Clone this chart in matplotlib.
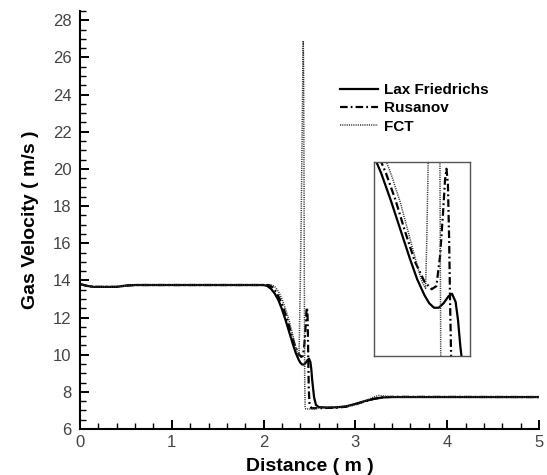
import matplotlib
matplotlib.use("Agg")
import matplotlib.pyplot as plt
from matplotlib.ticker import MultipleLocator

plt.rcParams['font.family'] = ['Liberation Sans', 'DejaVu Sans']
plt.rcParams['lines.scale_dashes'] = False

# ---- data ----
lf_x = [0.0, 0.08, 0.15, 0.40, 0.50, 0.60, 2.00, 2.04, 2.08, 2.12, 2.16, 2.20, 2.24, 2.28,
        2.32, 2.35, 2.38, 2.40, 2.42, 2.44, 2.46, 2.48, 2.495, 2.51, 2.52, 2.53, 2.55,
        2.57, 2.60, 2.70, 2.80, 2.90, 3.00, 3.10, 3.20, 3.30, 3.40, 5.00]
lf_y = [13.80, 13.70, 13.65, 13.65, 13.72, 13.75, 13.75, 13.70, 13.55, 13.30, 12.95, 12.45,
        11.85, 11.20, 10.55, 10.10, 9.75, 9.57, 9.47, 9.47, 9.57, 9.72, 9.78, 9.60, 9.20,
        8.60, 7.70, 7.30, 7.18, 7.15, 7.17, 7.22, 7.35, 7.50, 7.62, 7.70, 7.72, 7.72]

ru_x = [0.0, 0.08, 0.15, 0.40, 0.50, 0.60, 2.00, 2.06, 2.10, 2.14, 2.18, 2.22, 2.26, 2.30,
        2.34, 2.38, 2.41, 2.43, 2.445, 2.458, 2.466, 2.472, 2.478, 2.483, 2.487, 2.492,
        2.50, 2.52, 2.60, 2.80, 2.90, 3.00, 3.10, 3.20, 3.30, 3.40, 5.00]
ru_y = [13.80, 13.70, 13.65, 13.65, 13.72, 13.75, 13.75, 13.75, 13.62, 13.35, 12.95, 12.45,
        11.85, 11.15, 10.50, 10.05, 9.88, 9.95, 10.60, 11.60, 12.30, 12.55, 12.20, 11.00,
        9.60, 8.20, 7.35, 7.12, 7.12, 7.15, 7.20, 7.33, 7.48, 7.62, 7.71, 7.73, 7.72]

fct_x = [0.0, 0.08, 0.15, 0.40, 0.50, 0.60, 2.00, 2.08, 2.12, 2.16, 2.20, 2.24, 2.28, 2.32,
         2.35, 2.37, 2.385, 2.39, 2.395, 2.40, 2.41, 2.42, 2.428, 2.432, 2.436, 2.44, 2.443,
         2.446, 2.448, 2.452, 2.46, 2.55, 2.62, 2.80, 2.90, 3.00, 3.10, 3.20, 3.25, 3.30,
         3.40, 5.00]
fct_y = [13.80, 13.70, 13.65, 13.65, 13.72, 13.75, 13.75, 13.75, 13.68, 13.42, 13.00, 12.45,
         11.80, 11.00, 10.40, 10.05, 9.90, 11.00, 12.50, 14.00, 17.50, 22.00, 25.50, 26.90,
         25.00, 20.00, 15.00, 11.00, 8.50, 7.20, 7.08, 7.08, 7.15, 7.17, 7.22, 7.30, 7.50,
         7.72, 7.80, 7.78, 7.73, 7.72]

series = [
    ("Lax Friedrichs", lf_x, lf_y, dict(color='black', lw=1.6, linestyle='-')),
    ("Rusanov", ru_x, ru_y, dict(color='black', lw=1.6, linestyle=(0, (5.5, 2.2, 1.3, 2.2)))),
    ("FCT", fct_x, fct_y, dict(color='#333333', lw=1.1, linestyle=(0, (0.8, 0.8)))),
]

x_ticks = [0, 1, 2, 3, 4, 5]
y_ticks = [6, 8, 10, 12, 14, 16, 18, 20, 22, 24, 26, 28]

W, H = 547, 475
fig = plt.figure(figsize=(W / 100, H / 100), dpi=100)
ax = fig.add_axes([80 / W, 1 - 429 / H, (539 - 80) / W, (429 - 11) / H])

for name, xs, ys, st in series:
    ax.plot(xs, ys, label=name, **st)

ax.set_xlim(0, 5)
ax.set_ylim(6, 28.5)
ax.set_xticks(x_ticks)
ax.set_yticks(y_ticks)
ax.xaxis.set_minor_locator(MultipleLocator(0.2))
ax.yaxis.set_minor_locator(MultipleLocator(0.5))
for s in ['top', 'right']:
    ax.spines[s].set_visible(False)
for s in ['left', 'bottom']:
    ax.spines[s].set_linewidth(1.5)
ax.tick_params(which='major', direction='in', length=6.5, width=1.4, labelsize=12,
               labelcolor='#444444')
ax.tick_params(axis='y', which='major', pad=6)
ax.tick_params(axis='x', which='major', pad=4)
ax.tick_params(which='minor', direction='in', length=4.3, width=1.0)

ax.set_xlabel("Distance ( m )", fontsize=14, fontweight='bold', labelpad=6)
ax.set_ylabel("Gas Velocity ( m/s )", fontsize=14, fontweight='bold', labelpad=10)

leg = ax.legend(loc='upper left', bbox_to_anchor=((340 - 80) / 459, (429 - 83) / 418),
                frameon=False, prop={'weight': 'bold', 'size': 11},
                handlelength=2.5, handletextpad=0.35, labelspacing=0.28, borderaxespad=0,
                borderpad=0)

# inset (magnified view)
iax = fig.add_axes([374 / W, 1 - 356 / H, 96 / W, 194 / H])
for name, xs, ys, st in series:
    iax.plot(xs, ys, **st)
iax.set_xlim(2.17, 2.57)
iax.set_ylim(8.4, 12.7)
iax.set_xticks([])
iax.set_yticks([])
for s in iax.spines.values():
    s.set_color('#555555')
    s.set_linewidth(1.0)

fig.savefig("out.png", dpi=100)
